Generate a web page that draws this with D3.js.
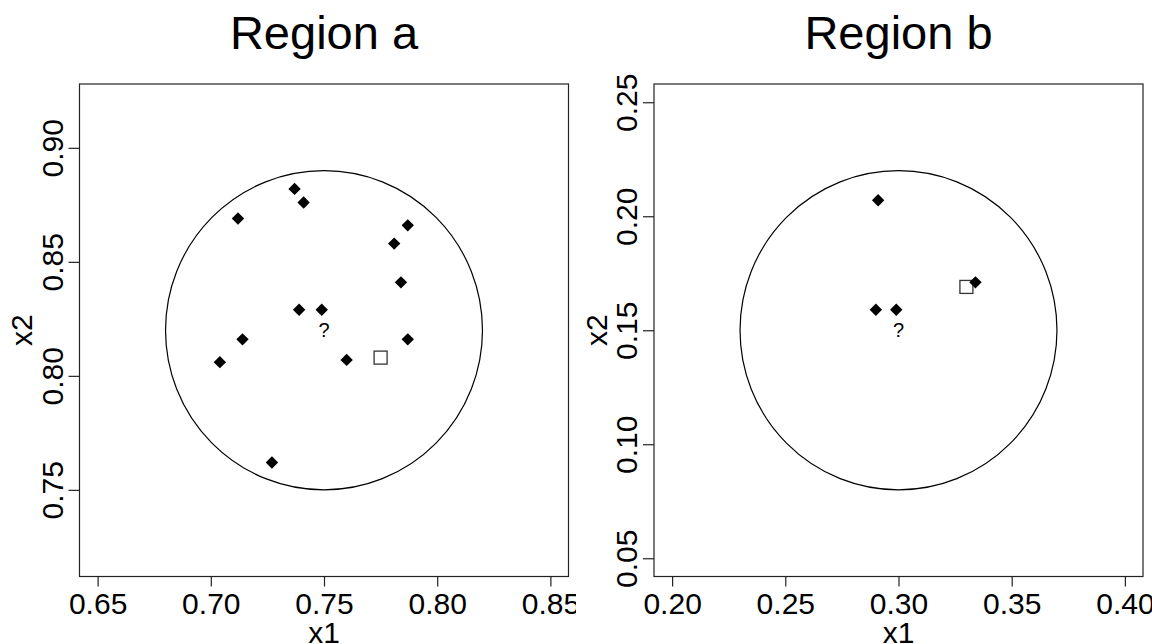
<!DOCTYPE html>
<html>
<head>
<meta charset="utf-8">
<script src="https://cdn.jsdelivr.net/npm/d3@7"></script>
<style>
  html, body { margin: 0; padding: 0; background: #fff; }
  svg text { font-family: "Liberation Sans", Arial, Helvetica, sans-serif; fill: #000; }
</style>
</head>
<body>
<svg id="chart" width="1152" height="644"></svg>
<script>
// Neighbourhood data for two query regions
const panelTitles = ["Region a", "Region b"];
const xDomains = [[0.65, 0.85], [0.20, 0.40]];
const yDomains = [[0.72, 0.92], [0.05, 0.25]];
const xTicksA = [0.65, 0.70, 0.75, 0.80, 0.85];
const yTicksA = [0.75, 0.80, 0.85, 0.90];
const xTicksB = [0.20, 0.25, 0.30, 0.35, 0.40];
const yTicksB = [0.05, 0.10, 0.15, 0.20, 0.25];

// query point (circle centre) and neighbourhood radius
const centers = [[0.75, 0.82], [0.30, 0.15]];
const radius = 0.07;

// filled-diamond observations
const diamondsA = [
  [0.737, 0.882], [0.741, 0.876], [0.712, 0.869], [0.787, 0.866],
  [0.781, 0.858], [0.784, 0.841], [0.739, 0.829], [0.749, 0.829],
  [0.714, 0.816], [0.787, 0.816], [0.704, 0.806], [0.760, 0.807],
  [0.727, 0.762]
];
const diamondsB = [
  [0.291, 0.207], [0.290, 0.159], [0.299, 0.159], [0.334, 0.171]
];
// open-square observations
const squaresA = [[0.775, 0.808]];
const squaresB = [[0.330, 0.169]];

const panels = [
  { title: panelTitles[0], xd: xDomains[0], yd: yDomains[0], xt: xTicksA, yt: yTicksA,
    c: centers[0], dia: diamondsA, sq: squaresA, left: 79.5, clipW: 576 },
  { title: panelTitles[1], xd: xDomains[1], yd: yDomains[1], xt: xTicksB, yt: yTicksB,
    c: centers[1], dia: diamondsB, sq: squaresB, left: 654, clipW: 576 }
];

const svg = d3.select("#chart");
const plotW = 489, plotTop = 84, plotH = 492.5;
const defs = svg.append("defs");

// R-style 4% axis extension
function extend(d) { const p = (d[1] - d[0]) * 0.04; return [d[0] - p, d[1] + p]; }
const fmt = d3.format(".2f");

panels.forEach((p, i) => {
  const figX = i * 576;
  defs.append("clipPath").attr("id", "fig" + i)
    .append("rect").attr("x", figX).attr("y", 0).attr("width", p.clipW).attr("height", 644);
  const g = svg.append("g").attr("clip-path", `url(#fig${i})`);

  const x = d3.scaleLinear().domain(extend(p.xd)).range([p.left, p.left + plotW]);
  const y = d3.scaleLinear().domain(extend(p.yd)).range([plotTop + plotH, plotTop]);

  // box
  g.append("rect").attr("x", p.left).attr("y", plotTop).attr("width", plotW).attr("height", plotH)
    .attr("fill", "none").attr("stroke", "#222").attr("stroke-width", 1.2);

  // x axis
  const xa = g.append("g").attr("transform", `translate(0,${plotTop + plotH})`)
    .call(d3.axisBottom(x).tickValues(p.xt).tickSize(10).tickPadding(0).tickFormat(fmt));
  xa.select(".domain").remove();
  xa.selectAll(".tick line").attr("stroke", "#222").attr("stroke-width", 1.2);
  xa.selectAll(".tick text").attr("y", 37).attr("dy", null)
    .attr("font-size", 30).attr("fill", "#000");

  // y axis
  const ya = g.append("g").attr("transform", `translate(${p.left},0)`)
    .call(d3.axisLeft(y).tickValues(p.yt).tickSize(11).tickPadding(0).tickFormat(fmt));
  ya.select(".domain").remove();
  ya.selectAll(".tick line").attr("stroke", "#222").attr("stroke-width", 1.2);
  ya.selectAll(".tick text")
    .attr("x", null).attr("dy", null)
    .attr("text-anchor", "middle")
    .attr("transform", "translate(-17,0) rotate(-90)")
    .attr("font-size", 30).attr("fill", "#000");

  // axis titles
  g.append("text").attr("x", p.left + plotW / 2).attr("y", 643)
    .attr("text-anchor", "middle").attr("font-size", 30).text("x1");
  g.append("text").attr("transform", `translate(${p.left - 47.5},${plotTop + plotH / 2}) rotate(-90)`)
    .attr("text-anchor", "middle").attr("font-size", 30).text("x2");

  // panel title
  g.append("text").attr("x", p.left + plotW / 2).attr("y", 49)
    .attr("text-anchor", "middle").attr("font-size", 47).text(p.title);

  // neighbourhood circle
  g.append("ellipse")
    .attr("cx", x(p.c[0])).attr("cy", y(p.c[1]))
    .attr("rx", x(p.c[0] + radius) - x(p.c[0]))
    .attr("ry", y(p.c[1]) - y(p.c[1] + radius))
    .attr("fill", "none").attr("stroke", "#000").attr("stroke-width", 1.2);

  // query marker
  g.append("text").attr("x", x(p.c[0])).attr("y", y(p.c[1]))
    .attr("text-anchor", "middle").attr("dominant-baseline", "central")
    .attr("font-size", 20).text("?");

  // open squares
  g.selectAll("rect.sq").data(p.sq).enter().append("rect").attr("class", "sq")
    .attr("x", d => x(d[0]) - 6.5).attr("y", d => y(d[1]) - 6.5)
    .attr("width", 13).attr("height", 13)
    .attr("fill", "#fff").attr("stroke", "#333").attr("stroke-width", 1.3);

  // filled diamonds
  const h = 6.2;
  g.selectAll("path.dia").data(p.dia).enter().append("path").attr("class", "dia")
    .attr("transform", d => `translate(${x(d[0])},${y(d[1])})`)
    .attr("d", `M0,${-h}L${h},0L0,${h}L${-h},0Z`)
    .attr("fill", "#000");
});
</script>
</body>
</html>
